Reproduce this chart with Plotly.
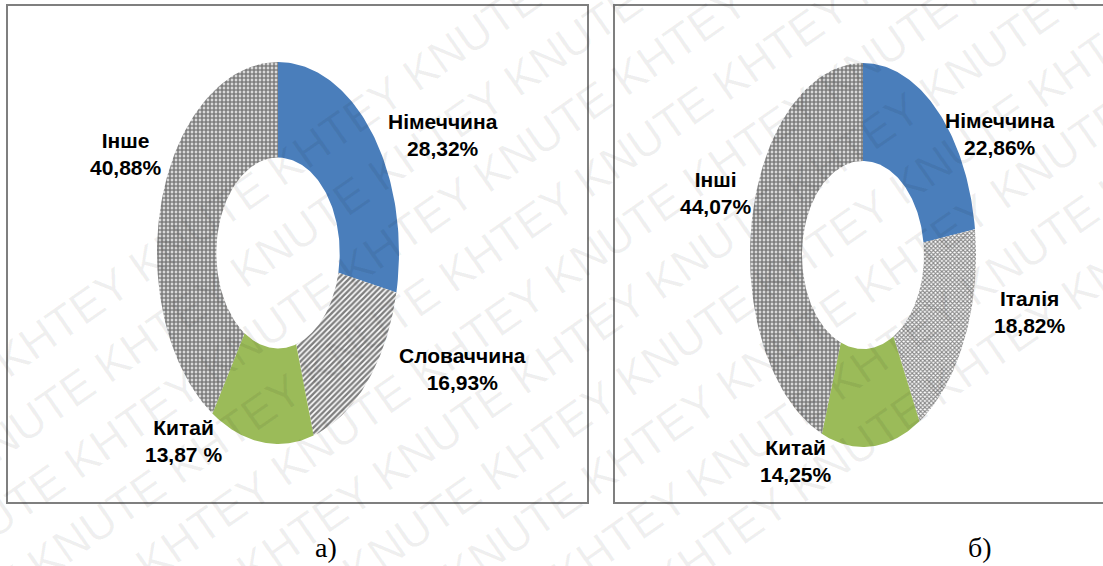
import numpy as np
import plotly.graph_objects as go

# дані: структура (%), діаграма а) та б)
labels_a = ['Німеччина', 'Словаччина', 'Китай', 'Інше']
values_a = [28.32, 16.93, 13.87, 40.88]
text_a = ['28,32%', '16,93%', '13,87 %', '40,88%']

labels_b = ['Німеччина', 'Італія', 'Китай', 'Інші']
values_b = [22.86, 18.82, 14.25, 44.07]
text_b = ['22,86%', '18,82%', '14,25%', '44,07%']

W, H = 1103, 566


def slice_style(name):
    if name == 'Німеччина':
        return dict(fillcolor='#4A7EBB')
    if name == 'Китай':
        return dict(fillcolor='#9BBB59')
    if name == 'Словаччина':
        return dict(fillcolor='white',
                    fillpattern=dict(shape='/', fgcolor='black', bgcolor='white', size=4, solidity=0.6))
    if name == 'Італія':
        return dict(fillcolor='white',
                    fillpattern=dict(shape='x', fgcolor='#111', bgcolor='white', size=3, solidity=0.6))
    return dict(fillcolor='white',
                fillpattern=dict(shape='.', fgcolor='black', bgcolor='white', size=4, solidity=0.75))


def add_donut(fig, names, values, cx, cy, rx, ry, hole):
    total = sum(values)
    start = 0.0
    for name, v in zip(names, values):
        end = start + v / total
        t = np.linspace(start, end, 80) * 2 * np.pi
        xo = cx + rx * np.sin(t)
        yo = cy - ry * np.cos(t)
        xi = cx + rx * hole[0] * np.sin(t[::-1])
        yi = cy - ry * hole[1] * np.cos(t[::-1])
        fig.add_trace(go.Scatter(
            x=np.concatenate([xo, xi, xo[:1]]), y=np.concatenate([yo, yi, yo[:1]]),
            mode='lines', fill='toself', line=dict(width=0, color='rgba(0,0,0,0)'),
            name=name, hoverinfo='name', showlegend=False, **slice_style(name)))
        start = end


fig = go.Figure()
add_donut(fig, labels_a, values_a, 278, 253, 121, 191, (0.51, 0.5))
add_donut(fig, labels_b, values_b, 863, 255, 113, 192, (0.54, 0.49))

lab_font = dict(family='Liberation Sans Narrow, Arial Narrow, Liberation Sans, sans-serif',
                size=21, color='black')
pos_a = [(443, 135), (462, 369), (183, 441), (126, 154)]
pos_b = [(1000, 134), (1030, 312), (796, 461), (716, 193)]
for names, txt, pos in ((labels_a, text_a, pos_a), (labels_b, text_b, pos_b)):
    for n, t, (x, y) in zip(names, txt, pos):
        fig.add_annotation(x=x, y=y, text='<b>%s<br>%s</b>' % (n, t), showarrow=False,
                           font=lab_font, align='center')

# рамки
fig.add_shape(type='rect', x0=7, y0=5, x1=588, y1=503, line=dict(color='#7f7f7f', width=2))
fig.add_shape(type='rect', x0=614, y0=5, x1=1130, y1=503, line=dict(color='#7f7f7f', width=2))

fig.add_annotation(x=326, y=547, text='а)', showarrow=False,
                   font=dict(family='Liberation Serif, Times New Roman, serif', size=28, color='black'))
fig.add_annotation(x=980, y=547, text='б)', showarrow=False,
                   font=dict(family='Liberation Serif, Times New Roman, serif', size=28, color='black'))

# водяний знак
ang = np.deg2rad(35)
wm = 'KNUTE KHTEY ' * 8
for k in range(-10, 11):
    s = (k % 2) * 80
    x = 550 + k * 62 * np.sin(ang) + s * np.cos(ang)
    y = 283 + k * 62 * np.cos(ang) - s * np.sin(ang)
    fig.add_annotation(x=x, y=y, text=wm, showarrow=False, textangle=-35,
                       font=dict(family='Liberation Sans, sans-serif', size=46,
                                 color='rgba(0,0,0,0.06)'))

fig.update_layout(
    width=W, height=H, margin=dict(l=0, r=0, t=0, b=0),
    paper_bgcolor='white', plot_bgcolor='white',
    xaxis=dict(range=[0, W], visible=False, fixedrange=True),
    yaxis=dict(range=[H, 0], visible=False, fixedrange=True),
)
fig.write_html("out.html", config={'displayModeBar': False},
               post_script="document.body.style.margin='0px';")
